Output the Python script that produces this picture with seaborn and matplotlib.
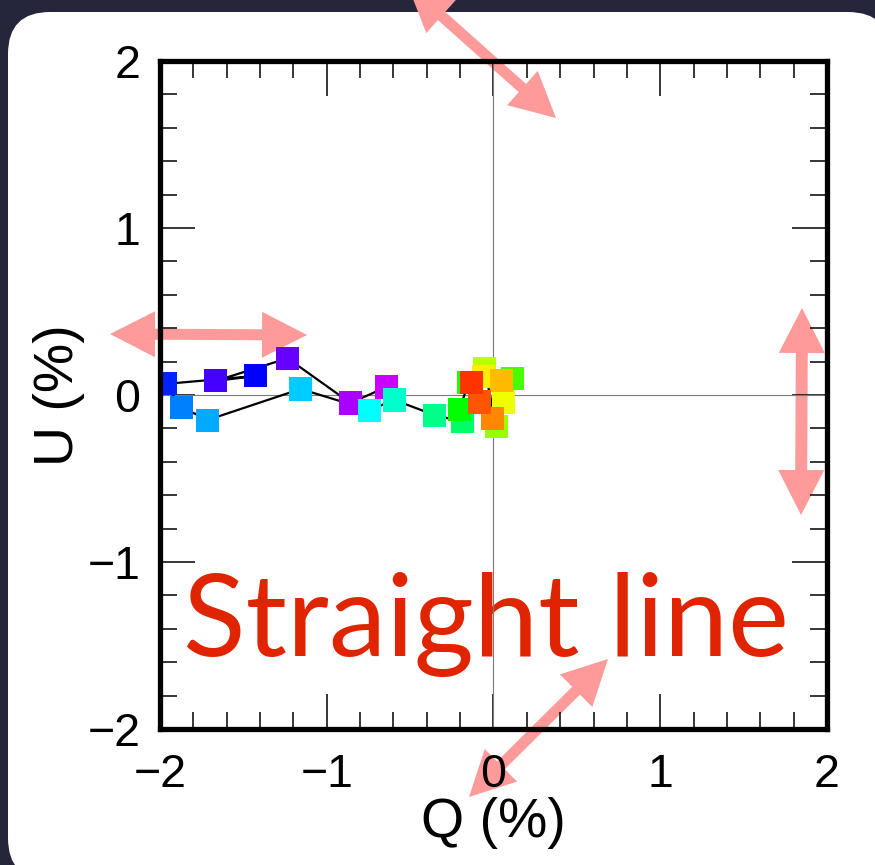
import numpy as np
import pandas as pd
import matplotlib
matplotlib.use("Agg")
import matplotlib.pyplot as plt
from matplotlib.patches import FancyBboxPatch, Polygon
from matplotlib.transforms import IdentityTransform
from matplotlib.ticker import MultipleLocator
import seaborn as sns

# Polarisation track: Stokes Q and U (%), one square per channel, coloured by channel
tones = ["#cc00ff", "#aa00ff", "#6600ff", "#4400ff", "#0000ff", "#0022ff",
         "#0080ff", "#00aaff", "#00ccff", "#00ffff", "#00ffcc", "#00ff88",
         "#00ff66", "#00ff00", "#22ff00", "#44ff00", "#99ff00", "#bbff00",
         "#eeff00", "#ffee00", "#ffbb00", "#ff8800", "#ff5500", "#ff3300"]
q_pct = [-0.642, -0.858, -1.235, -1.667, -1.427, -1.970,
         -1.871, -1.715, -1.157, -0.744, -0.594, -0.354,
         -0.186, -0.204, -0.150, 0.114, 0.018, -0.054,
         0.060, -0.060, 0.048, -0.006, -0.084, -0.132]
u_pct = [0.048, -0.048, 0.220, 0.084, 0.114, 0.066,
         -0.072, -0.150, 0.036, -0.090, -0.030, -0.120,
         -0.160, -0.086, 0.072, 0.096, -0.186, 0.156,
         -0.042, 0.108, 0.084, -0.138, -0.042, 0.072]
axis_ticks = [-2, -1, 0, 1, 2]
caption = "Straight line"

df = pd.DataFrame({"Q": q_pct, "U": u_pct, "tone": tones})

sns.set_theme(style="ticks")
plt.rcParams["font.family"] = ["Liberation Sans", "DejaVu Sans"]

W, H = 875, 865
fig = plt.figure(figsize=(W / 100, H / 100), dpi=100)
fig.patch.set_facecolor("#25253b")

# white rounded slide panel (pixel coordinates, origin bottom-left)
panel = FancyBboxPatch((8, H - 880), 882, 868,
                       boxstyle="round,pad=0,rounding_size=42",
                       transform=IdentityTransform(), facecolor="white",
                       edgecolor="none", zorder=-3)
fig.patches.append(panel)


def double_arrow(p0, p1, shaft=11, head_len=45, head_w=46, color="#ff9a9a"):
    """Filled double-headed arrow between two points given in image pixels (y down)."""
    a = np.array([p0[0], H - p0[1]], float)
    b = np.array([p1[0], H - p1[1]], float)
    d = b - a
    d /= np.hypot(*d)
    n = np.array([-d[1], d[0]])
    ha, hb = a + d * head_len, b - d * head_len
    pts = [a,
           ha + n * head_w / 2, ha + n * shaft / 2,
           hb + n * shaft / 2, hb + n * head_w / 2,
           b,
           hb - n * head_w / 2, hb - n * shaft / 2,
           ha - n * shaft / 2, ha - n * head_w / 2]
    fig.patches.append(Polygon(pts, closed=True, transform=IdentityTransform(),
                               facecolor=color, edgecolor="none", zorder=-1))


double_arrow((408, -14), (556, 118))
double_arrow((110, 334), (307, 335))
double_arrow((802, 308), (801, 515), shaft=12)
double_arrow((469, 797), (608, 659))

ax = fig.add_axes([160 / W, 1 - 729 / H, 667 / W, 668 / H])
ax.set_facecolor("none")

ax.text(-1.865, -1.56, caption, color="#e12400", fontsize=83,
        family=["Lato", "DejaVu Sans"], ha="left", va="baseline", zorder=1)

ax.axhline(0, color="#7a7a7a", lw=0.8, zorder=2)
ax.axvline(0, color="#7a7a7a", lw=0.8, zorder=2)

sns.lineplot(data=df, x="Q", y="U", sort=False, estimator=None,
             color="black", lw=1.6, ax=ax, zorder=3)
sns.scatterplot(data=df, x="Q", y="U", hue="tone",
                palette=dict(zip(tones, tones)), marker="s", s=275,
                linewidth=0, legend=False, ax=ax, zorder=4)

ax.set_xlim(-2, 2)
ax.set_ylim(-2, 2)
ax.set_xticks(axis_ticks)
ax.set_yticks(axis_ticks)
ax.xaxis.set_minor_locator(MultipleLocator(0.2))
ax.yaxis.set_minor_locator(MultipleLocator(0.2))
ax.tick_params(which="both", direction="in", top=True, right=True,
               color="black", labelsize=33.5, labelcolor="black")
ax.tick_params(which="major", length=25, width=1.1)
ax.tick_params(which="minor", length=12, width=1.1)
ax.tick_params(axis="x", which="major", pad=17)
ax.tick_params(axis="y", which="major", pad=14)
for sp in ax.spines.values():
    sp.set_linewidth(3.8)
    sp.set_color("black")
    sp.set_zorder(6)

ax.set_xlabel("Q (%)", fontsize=40, labelpad=0, color="black")
ax.set_ylabel("U (%)", fontsize=40, labelpad=2, color="black")

fig.savefig("out.png", dpi=100, facecolor=fig.get_facecolor())
